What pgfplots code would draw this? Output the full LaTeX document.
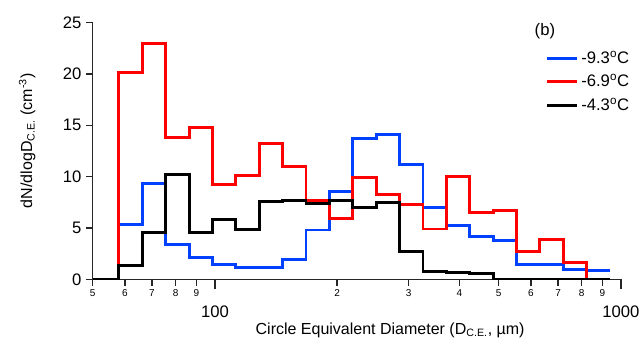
\documentclass[border=0pt]{standalone}
\usepackage{fontspec}
\setmainfont{Liberation Sans}
\usepackage{pgfplots}
\pgfplotsset{compat=1.18}
\definecolor{cblue}{RGB}{0,64,255}
\definecolor{cred}{RGB}{255,0,0}
\begin{document}
\begin{tikzpicture}[x=0.75pt,y=0.75pt]
\useasboundingbox (-92.7,-64.7) rectangle (547.3,279.3);
\begin{axis}[
  at={(0,0)}, anchor=south west,
  scale only axis, width=396.2pt, height=192.5pt,
  xmode=log, xmin=50, xmax=1000, ymin=0, ymax=25,
  axis x line*=bottom, axis y line*=left,
  axis line style={line width=1.1pt, black!85},
  tick align=outside,
  tick style={line width=1pt, black!85},
  major tick length=5pt,
  xtick={50,60,70,80,90,200,300,400,500,600,700,800,900},
  xticklabels={5,6,7,8,9,2,3,4,5,6,7,8,9},
  minor xtick={},
  xticklabel style={font=\fontsize{7.5}{8}\selectfont, yshift=1pt},
  extra x ticks={100,1000},
  extra x tick labels={\fontsize{12.5}{14}\selectfont 100,\fontsize{12.5}{14}\selectfont 1000},
  extra x tick style={major tick length=7.5pt, tick label style={yshift=-10pt}},
  ytick={0,5,10,15,20,25},
  yticklabel style={font=\fontsize{12.5}{14}\selectfont},
  /pgf/number format/assume math mode=true,
  ylabel={dN/dlogD\textsubscript{C.E.} (cm\textsuperscript{-3})},
  ylabel style={font=\fontsize{12}{14}\selectfont, at={(axis description cs:-0.124,0.54)}, anchor=center},
  xlabel={Circle Equivalent Diameter (D\textsubscript{C.E.}, µm)},
  xlabel style={font=\fontsize{12}{14}\selectfont, at={(axis description cs:0.563,-0.198)}, anchor=center},
  legend style={at={(rel axis cs:0.857,0.90)}, anchor=north west, draw=none, fill=none,
    font=\fontsize{12.5}{14}\selectfont, row sep=3pt, inner sep=0pt,
    /tikz/every even column/.append style={column sep=5pt}},
  legend cell align=left,
  legend image code/.code={\draw[#1] (0pt,0pt) -- (22.5pt,0pt);},
]
\addplot[const plot, cblue, line width=2.2pt] table {
x y
58.01 0
58.01 5.3
66.24 9.3
75.63 3.4
86.37 2.1
98.6 1.45
112.6 1.16
128.6 1.16
146.8 1.9
167.6 4.8
191.4 8.55
218.6 13.75
249.6 14.1
285.0 11.2
325.4 7.0
371.6 5.2
424.3 4.2
484.5 3.8
553.2 1.4
631.7 1.4
721.3 0.97
823.6 0.9
940.4 0.9
};
\addlegendentry{-9.3\textsuperscript{o}C}
\addplot[const plot, cred, line width=2.2pt] table {
x y
58.01 0
58.01 20.1
66.24 23.0
75.63 13.8
86.37 14.8
98.6 9.2
112.6 10.1
128.6 13.2
146.8 11.0
167.6 7.7
191.4 5.9
218.6 9.9
249.6 8.3
285.0 7.3
325.4 4.9
371.6 10.0
424.3 6.5
484.5 6.7
553.2 2.7
631.7 3.9
721.3 1.6
823.6 0
};
\addlegendentry{-6.9\textsuperscript{o}C}
\addplot[const plot, black, line width=2.2pt] table {
x y
50 0
58.01 1.3
66.24 4.55
75.63 10.25
86.37 4.6
98.6 5.85
112.6 4.85
128.6 7.6
146.8 7.65
167.6 7.35
191.4 7.7
218.6 7.0
249.6 7.5
285.0 2.7
325.4 0.8
371.6 0.68
424.3 0.6
484.5 0
553.2 0
631.7 0
721.3 0
823.6 0
940.4 0
};
\addlegendentry{-4.3\textsuperscript{o}C}
\node[font=\fontsize{12.5}{14}\selectfont, anchor=center] at (rel axis cs:0.856,0.965) {(b)};
\end{axis}
\end{tikzpicture}
\end{document}
